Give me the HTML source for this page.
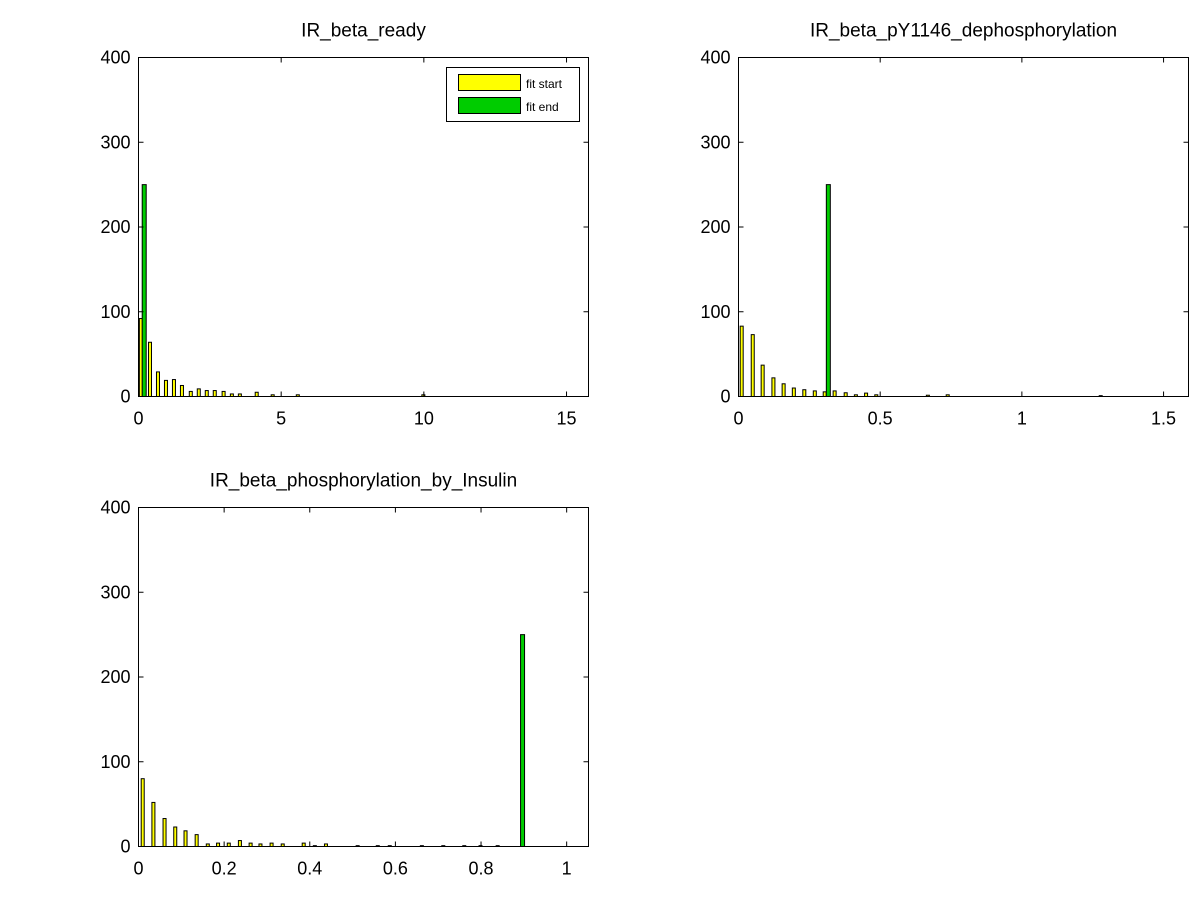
<!DOCTYPE html>
<html><head><meta charset="utf-8"><style>
body{margin:0;background:#fff;}
svg text{font-family:"Liberation Sans",sans-serif;}
</style></head><body>
<svg id="fig" width="1200" height="901" xmlns="http://www.w3.org/2000/svg"></svg>
<script>
// Panel 1: IR_beta_ready
const p1YellowX=[0.1,0.42,0.70,0.98,1.26,1.54,1.85,2.13,2.41,2.69,3.0,3.29,3.57,4.16,4.72,5.6,10.0];
const p1YellowY=[92,64,29,19,20,13,6,9,7,7,6,3,3,5,2,2,2];
const p1GreenX=[0.2];
const p1GreenY=[250];
const p1Ticks=[0,5,10,15];
// Panel 2: IR_beta_pY1146_dephosphorylation
const p2YellowX=[0.013,0.052,0.087,0.125,0.161,0.197,0.234,0.271,0.306,0.341,0.380,0.416,0.452,0.488,0.67,0.74,1.28];
const p2YellowY=[83,73,37,22,15,10,8,6.6,5.5,6.6,4.4,2,4,2,1.5,2,1];
const p2GreenX=[0.317];
const p2GreenY=[250];
const p2Ticks=[0,0.5,1,1.5];
// Panel 3: IR_beta_phosphorylation_by_Insulin
const p3YellowX=[0.011,0.036,0.062,0.087,0.111,0.137,0.163,0.187,0.212,0.238,0.263,0.286,0.312,0.338,0.387,0.413,0.439,0.513,0.56,0.588,0.663,0.713,0.762,0.8,0.84];
const p3YellowY=[80,52,33,23,18.5,14,3,4,4,7,4,3,4,3,4,1,3,1,1,1,1,1,1,1,1];
const p3GreenX=[0.897];
const p3GreenY=[250];
const p3Ticks=[0,0.2,0.4,0.6,0.8,1];
const yTicks=[0,100,200,300,400];

const NS="http://www.w3.org/2000/svg";
const svg=document.getElementById('fig');
function mk(tag,attrs,parent){const e=document.createElementNS(NS,tag);for(const k in attrs)e.setAttribute(k,attrs[k]);(parent||svg).appendChild(e);return e;}

function panel(name,title,L,T,R,B,xmax,ticks,yx,yy,gx,gy,legend){
  const g=mk('g',{});
  
  
  const sx=v=>L+(v/xmax)*(R-L);
  const sy=v=>B-(v/400)*(B-T);
  mk('rect',{x:L,y:T,width:R-L,height:B-T,fill:'#fff',stroke:'none'},g);
  const t=mk('text',{x:(L+R)/2,y:T-21,'font-size':19,'text-anchor':'middle'},g);
  t.textContent=title;
  
  
  for(let i=0;i<yx.length;i++){
    const r=mk('rect',{x:sx(yx[i])-2,y:sy(yy[i]),width:3,height:B-sy(yy[i]),fill:'#ffff00',stroke:'#000','stroke-width':1},g);
    
    
  }
  for(let i=0;i<gx.length;i++){
    const r=mk('rect',{x:sx(gx[i])-2,y:sy(gy[i]),width:4,height:B-sy(gy[i]),fill:'#00cc00',stroke:'#000','stroke-width':1},g);
    
    
  }
  mk('rect',{x:L,y:T,width:R-L,height:B-T,fill:'none',stroke:'#000','stroke-width':1},g);
  ticks.forEach(v=>{
    const x=sx(v);
    mk('line',{x1:x,y1:B,x2:x,y2:B-5,stroke:'#000'},g);
    mk('line',{x1:x,y1:T,x2:x,y2:T+5,stroke:'#000'},g);
    const tl=mk('text',{x:x,y:B+28,'font-size':18,'text-anchor':'middle'},g);
    tl.textContent=String(v);
    
    
  });
  yTicks.forEach(v=>{
    const y=sy(v);
    mk('line',{x1:L,y1:y,x2:L+5,y2:y,stroke:'#000'},g);
    mk('line',{x1:R,y1:y,x2:R-5,y2:y,stroke:'#000'},g);
    const tl=mk('text',{x:L-8,y:y+6,'font-size':18,'text-anchor':'end'},g);
    tl.textContent=String(v);
    
    
  });
  if(legend){
    const lg=mk('g',{},g);
    
    
    mk('rect',{x:446.5,y:67.5,width:133,height:54,fill:'#fff',stroke:'#000'},lg);
    mk('rect',{x:458.5,y:74.5,width:62,height:16,fill:'#ffff00',stroke:'#000'},lg);
    mk('rect',{x:458.5,y:97.5,width:62,height:16,fill:'#00cc00',stroke:'#000'},lg);
    const a=mk('text',{x:526,y:88,'font-size':12},lg);a.textContent='fit start';
    
    
    const b=mk('text',{x:526,y:111,'font-size':12},lg);b.textContent='fit end';
    
    
  }
}
panel('panel-ir-beta-ready','IR_beta_ready',138.5,57.5,588.5,396.5,15.77,p1Ticks,p1YellowX,p1YellowY,p1GreenX,p1GreenY,true);
panel('panel-ir-beta-dephosphorylation','IR_beta_pY1146_dephosphorylation',738.5,57.5,1188.5,396.5,1.588,p2Ticks,p2YellowX,p2YellowY,p2GreenX,p2GreenY,false);
panel('panel-ir-beta-phosphorylation','IR_beta_phosphorylation_by_Insulin',138.5,507.5,588.5,846.5,1.051,p3Ticks,p3YellowX,p3YellowY,p3GreenX,p3GreenY,false);
</script>
</body></html>
